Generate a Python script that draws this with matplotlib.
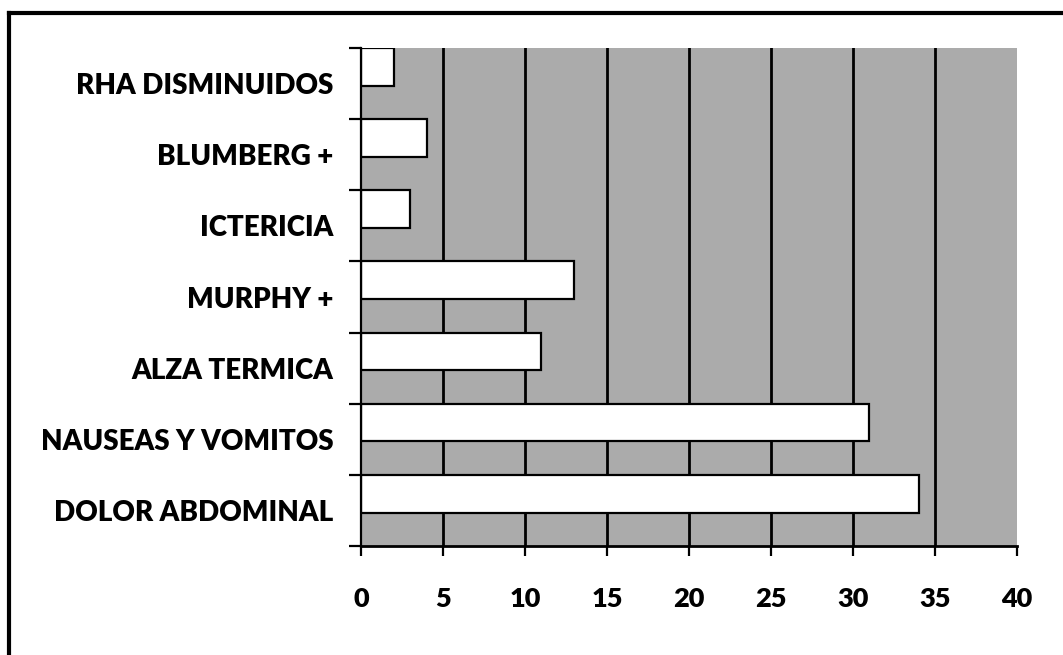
import matplotlib
matplotlib.use("Agg")
import matplotlib.pyplot as plt
from matplotlib.lines import Line2D
import numpy as np

categories = ["DOLOR ABDOMINAL", "NAUSEAS Y VOMITOS", "ALZA TERMICA", "MURPHY +",
              "ICTERICIA", "BLUMBERG +", "RHA DISMINUIDOS"]
values = [34, 31, 11, 13, 3, 4, 2]
xticks = [0, 5, 10, 15, 20, 25, 30, 35, 40]

plt.rcParams['font.family'] = ['Lato', 'DejaVu Sans']

fig = plt.figure(figsize=(10.63, 6.55), dpi=100)
ax = fig.add_axes([361/1063, 1-546/655, (1017-361)/1063, (546-48)/655])
ax.set_facecolor('#ababab')

y = np.arange(len(categories))
h = 0.53
ax.barh(y + 0.5 - h/2, values, height=h, color='white', edgecolor='black', linewidth=1.6, zorder=3)

ax.set_xlim(0, 40)
ax.set_ylim(-0.5, len(categories) - 0.5)
ax.set_xticks(xticks)
ax.set_xticklabels([str(t) for t in xticks], fontsize=19.5, fontweight='heavy')
for xv in xticks[1:-1]:
    ax.axvline(xv, color='black', linewidth=2.0, zorder=2)

ax.set_yticks(y)
ax.set_yticklabels(categories, fontsize=20, fontweight='heavy')
ax.set_yticks(np.arange(-0.5, len(categories)), minor=True)
ax.tick_params(axis='y', which='major', length=0, pad=20)
ax.tick_params(axis='y', which='minor', length=9, width=1.6, direction='out')
ax.tick_params(axis='x', which='major', length=7.5, width=1.6, direction='out', pad=22)

for s in ['top', 'right']:
    ax.spines[s].set_visible(False)
ax.spines['left'].set_linewidth(1.6)
ax.spines['bottom'].set_linewidth(2.0)
ax.spines['left'].set_zorder(4)

# outer frame (left and top edges)
fig.add_artist(Line2D([9/1063, 9/1063], [0, 1-13/655], color='black', linewidth=3.0))
fig.add_artist(Line2D([9/1063, 1], [1-13/655, 1-13/655], color='black', linewidth=3.0))

fig.savefig("out.png", dpi=100)
